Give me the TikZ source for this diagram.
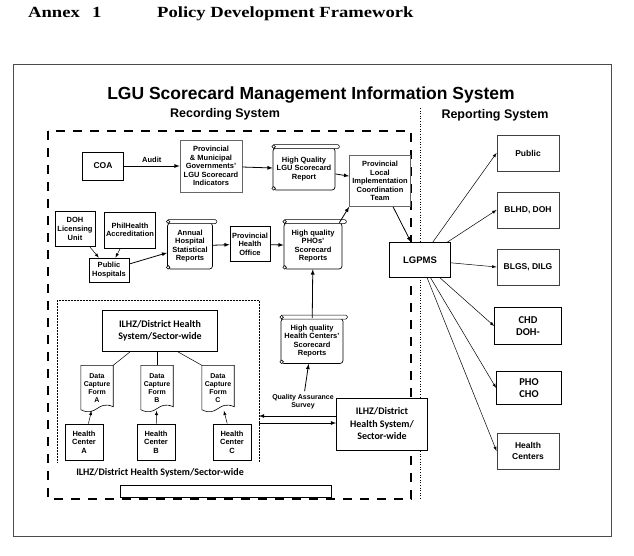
\documentclass[tikz,border=0pt]{standalone}
\usepackage{fontspec}
\setmainfont{Liberation Sans}
\newfontfamily\timesfont[FakeStretch=1.2]{Liberation Serif}
\newfontfamily\calfont{Carlito}
\usepackage{tikz}
\usetikzlibrary{arrows,calc}
\newcommand{\scrollroll}[1]{%
  \draw[line width=0.6pt, fill=white, rounded corners=1.5pt] ([yshift=-1pt]#1.north west) rectangle ([xshift=4pt,yshift=3pt]#1.north east);
  \draw[line width=0.6pt, fill=white] ([xshift=1pt,yshift=1pt]#1.north west) circle (1.8pt);
  \draw[line width=0.6pt, fill=white] ([xshift=1pt,yshift=2pt]#1.south west) circle (1.8pt);}
\newcommand{\docwave}[1]{%
  \draw[line width=0.6pt] ([yshift=1pt]#1.south west) -- (#1.north west) -- (#1.north east) -- ([yshift=4pt]#1.south east)
    .. controls ([yshift=11pt]#1.south) and ([yshift=-7pt]#1.south) .. ([yshift=1pt]#1.south west);}
\begin{document}
\begin{tikzpicture}[x=1pt,y=-1pt,
  box/.style={draw, fill=white, line width=0.7pt, align=center, inner sep=1pt, font=\bfseries\fontsize{7.5}{8.6}\selectfont},
  scroll/.style={box, rounded corners=3pt},
  form/.style={align=center, inner sep=1pt, minimum width=32pt, minimum height=45pt, font=\bfseries\fontsize{7}{8}\selectfont},
  repbox/.style={box, draw=black!75, line width=0.9pt, minimum width=62pt, minimum height=36pt, font=\bfseries\fontsize{8.5}{10.5}\selectfont},
  ilhz/.style={draw, fill=white, line width=0.8pt, align=center, inner sep=1pt, font=\calfont\bfseries\fontsize{10}{12.5}\selectfont},
  arr/.style={-latex, line width=0.8pt},
  thinarr/.style={-latex, line width=0.5pt}]
\useasboundingbox (0,0) rectangle (634,556);

\node[anchor=base west, inner sep=0pt, font=\timesfont\bfseries\fontsize{15.5}{18}\selectfont] (annex) at (28,18) {Annex};
\node[anchor=base west, inner sep=0pt, font=\timesfont\bfseries\fontsize{15.5}{18}\selectfont] (annexnr) at (92,18) {1};
\node[anchor=base west, inner sep=0pt, font=\timesfont\bfseries\fontsize{15.5}{18}\selectfont] (framework) at (157,18) {Policy Development Framework};
\draw[black!70, line width=0.6pt] (13,64) rectangle (611,536);
\node[font=\bfseries\fontsize{17.5}{20}\selectfont] (title) at (311,95) {LGU Scorecard Management Information System};
\node[font=\bfseries\fontsize{12.5}{15}\selectfont] (recording) at (225,114) {Recording System};
\node[font=\bfseries\fontsize{12.5}{15}\selectfont] (reporting) at (495,115) {Reporting System};

\draw[line width=2.4pt, dash pattern=on 9pt off 8pt] (48,131) rectangle (411,499);
\draw[dotted, line width=0.6pt] (420,108) -- (420,500);
\draw[densely dotted, line width=0.5pt] (57,462) -- (57,300) -- (259,300) -- (259,462);

\node[box, minimum width=41pt, minimum height=28pt, font=\bfseries\fontsize{8.5}{10}\selectfont] (coa) at (103,166) {COA};
\node[box, draw=black!60, minimum width=62pt, minimum height=52pt] (indic) at (211,166) {Provincial\\\& Municipal\\Governments'\\LGU Scorecard\\Indicators};
\node[scroll, minimum width=62pt, minimum height=42pt] (lgurep) at (304,169) {High Quality\\LGU Scorecard\\Report};
\scrollroll{lgurep}
\node[box, draw=black!60, minimum width=61pt, minimum height=51pt] (plict) at (380,181) {Provincial\\Local\\Implementation\\Coordination\\Team};
\node[box, minimum width=40pt, minimum height=35pt] (dohlu) at (75,229) {DOH\\Licensing\\Unit};
\node[box, minimum width=51pt, minimum height=36pt] (philh) at (130,230) {PhilHealth\\Accreditation};
\node[box, minimum width=40pt, minimum height=24pt] (pubhosp) at (109,270) {Public\\Hospitals};
\node[scroll, minimum width=45pt, minimum height=46pt] (annual) at (190,246) {Annual\\Hospital\\Statistical\\Reports};
\scrollroll{annual}
\node[box, minimum width=40pt, minimum height=35pt] (pho) at (250,244) {Provincial\\Health\\Office};
\node[scroll, minimum width=58pt, minimum height=46pt] (phorep) at (313,246) {High quality\\PHOs'\\Scorecard\\Reports};
\scrollroll{phorep}
\node[box, minimum width=61pt, minimum height=35pt, font=\bfseries\fontsize{9.5}{11}\selectfont] (lgpms) at (420,260) {LGPMS};

\node[ilhz, minimum width=115pt, minimum height=41pt] (ilhzin) at (160,331) {ILHZ/District Health\\System/Sector-wide};
\node[form] (forma) at (97,388) {Data\\Capture\\Form\\A};
\docwave{forma}
\node[form] (formb) at (157,388) {Data\\Capture\\Form\\B};
\docwave{formb}
\node[form] (formc) at (218,388) {Data\\Capture\\Form\\C};
\docwave{formc}
\node[box, minimum width=38pt, minimum height=36pt] (hca) at (84,442) {Health\\Center\\A};
\node[box, minimum width=38pt, minimum height=36pt] (hcb) at (156,442) {Health\\Center\\B};
\node[box, minimum width=38pt, minimum height=36pt] (hcc) at (232,442) {Health\\Center\\C};
\node[scroll, minimum width=62pt, minimum height=45pt] (hcrep) at (312,341) {High quality\\Health Centers'\\Scorecard\\Reports};
\scrollroll{hcrep}
\node[align=center, font=\bfseries\fontsize{7}{8}\selectfont] (qas) at (303,402) {Quality Assurance\\Survey};
\node[ilhz, minimum width=91pt, minimum height=52pt] (ilhzout) at (382,424) {ILHZ/District\\Health System/\\Sector-wide};
\node[font=\calfont\bfseries\fontsize{10}{12}\selectfont] (ilhzlbl) at (160,473) {ILHZ/District Health System/Sector-wide};
\node[draw, line width=0.8pt, minimum width=211pt, minimum height=12pt, inner sep=0pt] (blank) at (226,491) {};

\node[repbox] (public) at (528,153) {Public};
\node[repbox] (blhd) at (528,210) {BLHD, DOH};
\node[repbox] (blgs) at (528,267) {BLGS, DILG};
\node[ilhz, minimum width=67pt, minimum height=37pt, font=\calfont\bfseries\fontsize{10.5}{12.5}\selectfont] (chd) at (528,326) {CHD\\DOH-};
\node[ilhz, minimum width=65pt, minimum height=33pt, font=\calfont\bfseries\fontsize{10.5}{12.5}\selectfont] (phocho) at (529,388) {PHO\\CHO};
\node[repbox] (hcent) at (528,451) {Health\\Centers};

\draw[arr] (coa) -- node[above, font=\bfseries\fontsize{7.5}{8}\selectfont] {Audit} (indic);
\draw[arr] (indic) -- (lgurep);
\draw[arr] (lgurep) -- (plict);
\draw[thinarr] (dohlu) -- (pubhosp);
\draw[thinarr] (philh) -- (pubhosp);
\draw[arr] (pubhosp) -- (annual);
\draw[arr] (annual) -- (pho);
\draw[arr] (pho) -- (phorep);
\draw[arr] ([xshift=-3pt]phorep.north east) -- (plict.south west);
\draw[arr] (plict) -- (lgpms);
\draw[arr] (hcrep) -- (phorep);
\draw[arr] (qas) -- (hcrep);
\coordinate (qin) at (259,416);
\coordinate (qout) at (259,423);
\draw[arr] (ilhzout.west |- qin) -- (qin);
\draw[arr] (qout) -- (ilhzout.west |- qout);
\draw[line width=0.5pt] ([xshift=-30pt]ilhzin.south) -- (forma.north east);
\draw[line width=0.5pt] (ilhzin.south -| formb.north) -- (formb.north);
\draw[line width=0.5pt] ([xshift=18pt]ilhzin.south) -- (formc.north west);
\draw[thinarr] (hca) -- (forma);
\draw[thinarr] (hcb) -- (formb);
\draw[thinarr] (hcc) -- (formc);
\foreach \r in {public,blhd,blgs,chd,phocho,hcent}
  \draw[thinarr] (lgpms) -- (\r.west);
\end{tikzpicture}
\end{document}
